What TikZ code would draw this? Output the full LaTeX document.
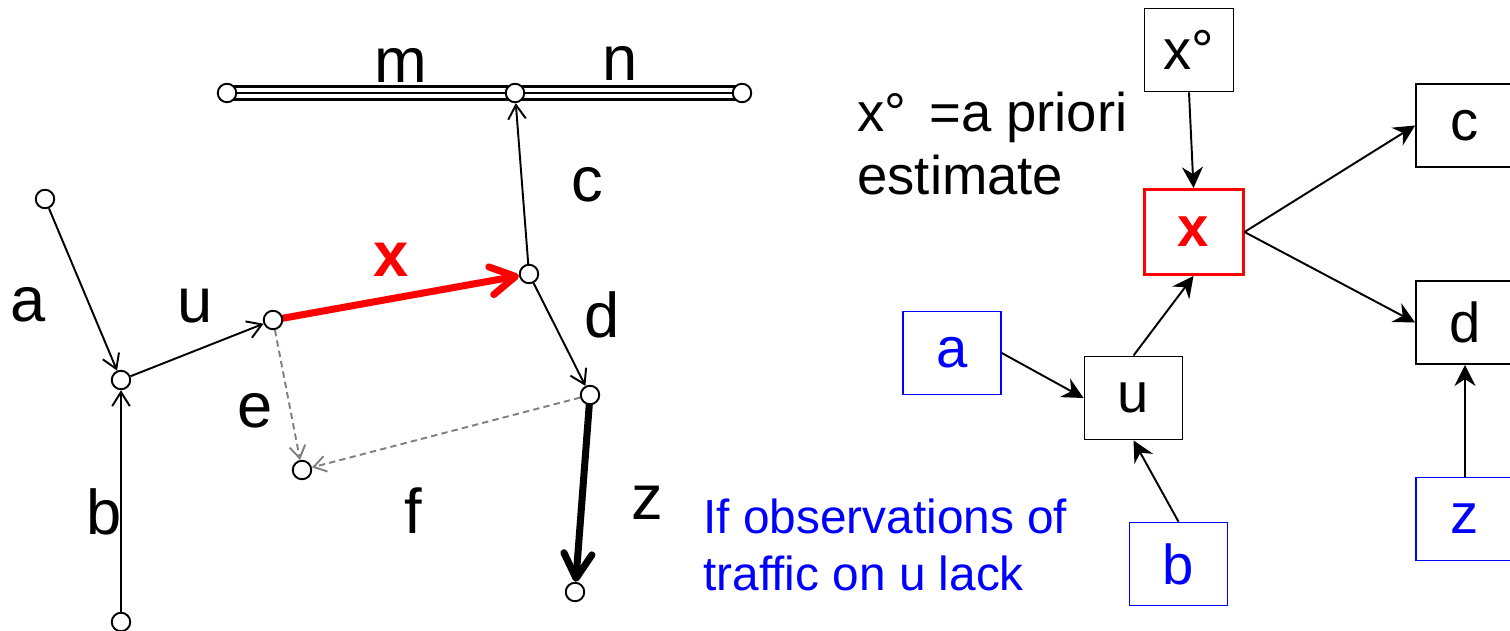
\documentclass[tikz,border=0pt]{standalone}
\usepackage{fontspec}
\setmainfont{Liberation Sans}
\usetikzlibrary{arrows.meta}
\pgfdeclarelayer{bg}
\pgfsetlayers{bg,main}
\definecolor{pred}{RGB}{255,0,0}
\definecolor{pblue}{RGB}{0,0,255}
\definecolor{pgray}{RGB}{128,128,128}
\begin{document}
\begin{tikzpicture}[x=0.02cm,y=-0.02cm,
  pt/.style={circle,draw,fill=white,minimum size=0.37cm,inner sep=0pt,line width=1.1pt},
  lbl/.style={inner sep=0pt,font=\fontsize{36}{40}\selectfont},
  thinarrow/.style={line width=1.1pt,-{Straight Barb[length=8pt,width=10pt]}},
  grayarrow/.style={pgray,line width=1.1pt,dash pattern=on 3.6pt off 2.4pt,-{Straight Barb[length=7pt,width=9pt]}},
  bigarrow/.style={line width=4pt,-{Straight Barb[length=14pt,width=16pt,round]}},
  box/.style={draw,line width=1.1pt,minimum width=1.96cm,minimum height=1.66cm,inner sep=0pt,font=\fontsize{32}{36}\selectfont},
  obsbox/.style={box,draw=pblue,text=pblue,line width=0.9pt},
  rarrow/.style={line width=1.1pt,-{Stealth[length=12pt,width=12pt,inset=4pt]}},
  ptext/.style={inner sep=0pt,anchor=base west,font=\fontsize{31}{36}\selectfont},
  btext/.style={inner sep=0pt,anchor=base west,text=pblue,font=\fontsize{27.2}{32}\selectfont}
]
\useasboundingbox (0,0) rectangle (1510,631);
\clip (0,0) rectangle (1510,631);

% ---------- left network ----------
\node[pt] (pm) at (227,93) {};
\node[pt] (pc) at (515,93) {};
\node[pt] (pn) at (742,93) {};
\node[pt] (pa) at (45,199) {};
\node[pt] (pj) at (121,380) {};
\node[pt] (pb) at (121,622) {};
\node[pt] (pu) at (273,320) {};
\node[pt] (px) at (529,274) {};
\node[pt] (pd) at (590,395) {};
\node[pt] (pe) at (302,470) {};
\node[pt] (pz) at (575,592) {};

\begin{pgfonlayer}{bg}
  \foreach \s/\t in {pm/pc,pc/pn}{
    \draw[line width=9pt] (\s.center) -- (\t.center);
    \draw[white,line width=5.2pt] (\s.center) -- (\t.center);
    \draw[line width=1.7pt] (\s.center) -- (\t.center);
  }
  \draw[bigarrow,pred] (pu.center) -- (px);
  \draw[bigarrow] (pd.center) -- (pz);
\end{pgfonlayer}

\draw[thinarrow] (pa) -- (pj);
\draw[thinarrow] (pb) -- (pj);
\draw[thinarrow] (pj) -- (pu);
\draw[thinarrow] (px) -- (pc);
\draw[thinarrow] (px) -- (pd);
\draw[grayarrow] (pu) -- (pe);
\draw[grayarrow] (pd) -- (pe);

\node[lbl] (lm) at (401,65) {m};
\node[lbl] (ln) at (620,63) {n};
\node[lbl] (lc) at (587,185) {c};
\node[lbl,text=pred,font=\fontsize{36}{40}\selectfont\bfseries] (lx) at (391,260) {x};
\node[lbl] (la) at (28,305) {a};
\node[lbl] (lu) at (195,306) {u};
\node[lbl] (ld) at (602,315) {d};
\node[lbl] (le) at (255,411) {e};
\node[lbl] (lb) at (104,512) {b};
\node[lbl] (lf) at (413,511) {f};
\node[lbl] (lz) at (647,503) {z};

% ---------- texts ----------
\node[ptext] (t1) at (857,132) {x°\hspace{0.42em}=a priori};
\node[ptext] (t2) at (857,195) {estimate};
\node[btext] (o1) at (703,533) {If observations of};
\node[btext] (o2) at (703,590) {traffic on u lack};

% ---------- right graph ----------
\node[box,minimum width=1.78cm] (bxo) at (1189,50) {x°};
\node[box,draw=pred,text=pred,line width=1.7pt,minimum width=1.98cm,minimum height=1.7cm,font=\fontsize{32}{36}\selectfont\bfseries] (bx) at (1193.5,232) {x};
\node[box] (bc) at (1465,125.5) {c};
\node[box] (bd) at (1465,322.5) {d};
\node[obsbox] (bz) at (1465,519) {z};
\node[obsbox] (ba) at (952,353) {a};
\node[box] (bu) at (1133.5,398) {u};
\node[obsbox] (bb) at (1178.5,564) {b};

\draw[rarrow] (bxo.south) -- (bx.north);
\draw[rarrow] (bx.east) -- (bc.west);
\draw[rarrow] (bx.east) -- (bd.west);
\draw[rarrow] (ba.east) -- (bu.west);
\draw[rarrow] (bu.north) -- (bx.south);
\draw[rarrow] (bb.north) -- (bu.south);
\draw[rarrow] (bz.north) -- (bd.south);
\end{tikzpicture}
\end{document}
